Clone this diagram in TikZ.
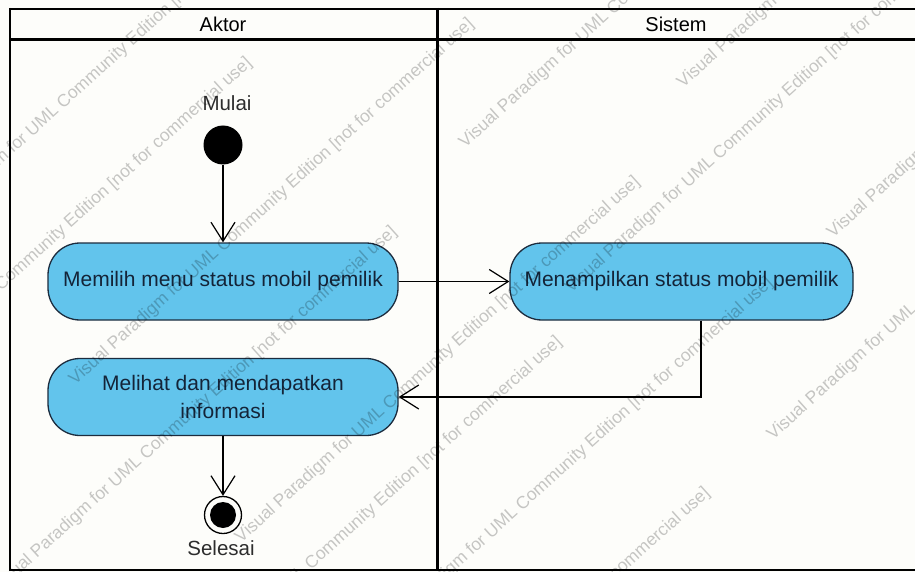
\documentclass[tikz,border=0pt]{standalone}
\usepackage{fontspec}
\setmainfont{Liberation Sans}
\usetikzlibrary{arrows.meta}
\definecolor{actfill}{RGB}{98,196,236}
\definecolor{actdraw}{RGB}{28,44,62}
\definecolor{acttext}{RGB}{20,36,56}
\definecolor{paper}{RGB}{253,253,250}
\definecolor{lbltext}{RGB}{45,45,45}
\newcommand\vpmark{Visual Paradigm for UML Community Edition [not for commercial use]}
\begin{document}
\begin{tikzpicture}[x=1pt,y=-1pt,
  action/.style={draw=actdraw, line width=1.3pt, fill=actfill, rounded corners=32pt,
    text=acttext, font=\fontsize{21}{28}\selectfont, align=center, inner sep=0pt,
    minimum height=77pt},
  flow/.style={draw, line width=1.2pt, -{Straight Barb[length=19pt,width=24pt]}},
  lanehead/.style={font=\fontsize{20}{20}\selectfont, text=black},
  nodelabel/.style={font=\fontsize{20.5}{20}\selectfont, text=lbltext},
  wmark/.style={anchor=west, rotate=42, inner sep=0pt, text=black, text opacity=0.22,
    font=\fontsize{17.5}{17}\selectfont}]

% page
\useasboundingbox (0,0) rectangle (915,572);
\fill[paper] (0,0) rectangle (915,572);

% swimlane frame
\draw[line width=2.2pt] (10,9) -- (915,9);
\draw[line width=3.6pt] (10,39.5) -- (915,39.5);
\draw[line width=2.6pt] (10,570) -- (915,570);
\draw[line width=2.6pt] (10,8) -- (10,571);
\draw[line width=3pt] (437,8) -- (437,571);
\node[lanehead] (laneA) at (223,24) {Aktor};
\node[lanehead] (laneS) at (676,24) {Sistem};

% initial and final nodes
\node[nodelabel] (lblstart) at (227,103) {Mulai};
\node[circle, fill=black, minimum size=39pt, inner sep=0pt] (start) at (223,145) {};
\node[circle, draw, line width=1.3pt, fill=paper, minimum size=37pt, inner sep=0pt] (final) at (223,515) {};
\node[circle, fill=black, minimum size=26pt, inner sep=0pt] (finaldot) at (final.center) {};
\node[nodelabel] (lblend) at (221,548) {Selesai};

% actions
\node[action, minimum width=350pt] (act1) at (223,281.5) {Memilih menu status mobil pemilik};
\node[action, minimum width=343pt] (act2) at (681.5,281.5) {Menampilkan status mobil pemilik};
\node[action, minimum width=350pt] (act3) at (223,397) {Melihat dan mendapatkan\\informasi};

% control flows
\coordinate (bend) at (701,397);
\draw[flow] (start) -- (act1);
\draw[flow] (act1) -- (act2);
\draw[flow] (act2.south -| bend) -- (bend) -- (act3.east);
\draw[flow] (act3) -- (final);

% edition watermark
\begin{scope}
\clip (0,0) rectangle (915,572);
\foreach \px/\py [count=\i] in {-88/239, -150/421, 72/382, 462/145, 680/85, 830/235,
    238/540, 770/437, -5/590, 160/700, 371/641, 308/851, 568/290}
  \node[wmark] (wm\i) at (\px,\py) {\vpmark};
\end{scope}
\end{tikzpicture}
\end{document}
